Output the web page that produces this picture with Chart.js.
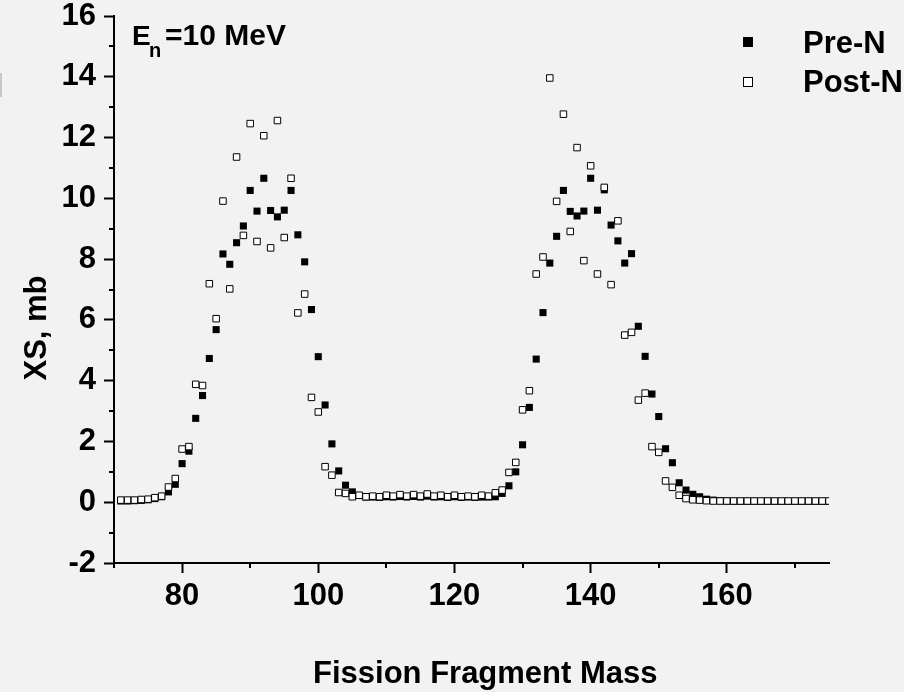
<!DOCTYPE html>
<html>
<head>
<meta charset="utf-8">
<title>Fission fragment mass yield</title>
<script src="https://cdn.jsdelivr.net/npm/chart.js@4.4.1/dist/chart.umd.min.js"></script>
<style>
  html, body { margin: 0; padding: 0; background: #f2f2f2; }
  #wrap { width: 904px; height: 692px; }
</style>
</head>
<body>
<div id="wrap"><canvas id="xsChart" width="904" height="692"></canvas></div>
<script>
// ---- data ----
const masses = [
  71, 72, 73, 74, 75, 76, 77, 78, 79, 80,
  81, 82, 83, 84, 85, 86, 87, 88, 89, 90,
  91, 92, 93, 94, 95, 96, 97, 98, 99, 100,
  101, 102, 103, 104, 105, 106, 107, 108, 109, 110,
  111, 112, 113, 114, 115, 116, 117, 118, 119, 120,
  121, 122, 123, 124, 125, 126, 127, 128, 129, 130,
  131, 132, 133, 134, 135, 136, 137, 138, 139, 140,
  141, 142, 143, 144, 145, 146, 147, 148, 149, 150,
  151, 152, 153, 154, 155, 156, 157, 158, 159, 160,
  161, 162, 163, 164, 165, 166, 167, 168, 169, 170,
  171, 172, 173, 174, 175
];

const preN = [
  0.04, 0.04, 0.05, 0.06, 0.08, 0.12, 0.18, 0.34, 0.59, 1.27,
  1.68, 2.76, 3.51, 4.73, 5.68, 8.17, 7.83, 8.54, 9.09, 10.26,
  9.58, 10.66, 9.60, 9.39, 9.61, 10.26, 8.80, 7.91, 6.34, 4.79,
  3.20, 1.92, 1.03, 0.56, 0.34, 0.22, 0.17, 0.17, 0.16, 0.18,
  0.17, 0.19, 0.17, 0.19, 0.17, 0.20, 0.17, 0.18, 0.16, 0.18,
  0.16, 0.17, 0.16, 0.17, 0.17, 0.18, 0.29, 0.54, 1.00, 1.89,
  3.12, 4.71, 6.24, 7.87, 8.75, 10.26, 9.57, 9.42, 9.58, 10.66,
  9.61, 10.28, 9.12, 8.60, 7.87, 8.18, 5.79, 4.80, 3.56, 2.82,
  1.76, 1.30, 0.64, 0.40, 0.26, 0.18, 0.10, 0.07, 0.05, 0.04,
  0.03, 0.03, 0.03, 0.03, 0.03, 0.03, 0.03, 0.03, 0.03, 0.03,
  0.03, 0.03, 0.03, 0.03, 0.03
];

const postN = [
  0.07, 0.07, 0.07, 0.09, 0.10, 0.15, 0.20, 0.50, 0.78, 1.75,
  1.83, 3.88, 3.84, 7.19, 6.04, 9.91, 7.02, 11.36, 8.78, 12.46,
  8.58, 12.06, 8.37, 12.56, 8.71, 10.66, 6.23, 6.85, 3.45, 2.97,
  1.17, 0.89, 0.32, 0.29, 0.18, 0.23, 0.18, 0.20, 0.18, 0.23,
  0.20, 0.25, 0.20, 0.25, 0.20, 0.27, 0.20, 0.23, 0.18, 0.23,
  0.18, 0.20, 0.18, 0.23, 0.20, 0.31, 0.40, 0.98, 1.31, 3.04,
  3.67, 7.51, 8.07, 13.96, 9.90, 12.77, 8.91, 11.67, 7.95, 11.07,
  7.51, 10.36, 7.16, 9.26, 5.50, 5.59, 3.36, 3.59, 1.83, 1.64,
  0.70, 0.49, 0.23, 0.12, 0.08, 0.07, 0.05, 0.04, 0.04, 0.04,
  0.04, 0.04, 0.04, 0.04, 0.04, 0.04, 0.04, 0.04, 0.04, 0.04,
  0.04, 0.04, 0.04, 0.04, 0.04
];

// tick positions (every value gets a tick mark, labels only on the major ones)
const xTicks = [70, 80, 90, 100, 110, 120, 130, 140, 150, 160, 170];
const xLabels = [80, 100, 120, 140, 160];
const yTicks = [-2, -1, 0, 1, 2, 3, 4, 5, 6, 7, 8, 9, 10, 11, 12, 13, 14, 15, 16];
const yLabels = [-2, 0, 2, 4, 6, 8, 10, 12, 14, 16];

const FONT = "'Liberation Sans', Arial, sans-serif";

const toPoints = vals => masses.map((m, i) => ({ x: m, y: vals[i] }));

// keep the plot box where the original has it (no extra room for overflowing labels)
function noScalePadding(s) {
  s.paddingTop = 0; s.paddingBottom = 0; s.paddingLeft = 0; s.paddingRight = 0;
}

// minor ticks, axis titles, note and legend drawn on top
const decoPlugin = {
  id: 'deco',
  afterDraw(chart) {
    const { ctx, chartArea } = chart;
    const xs = chart.scales.x, ys = chart.scales.y;
    ctx.save();
    ctx.strokeStyle = '#000';
    ctx.lineWidth = 2;
    // short minor ticks
    xTicks.filter(v => !xLabels.includes(v)).forEach(v => {
      const px = Math.round(xs.getPixelForValue(v));
      ctx.beginPath(); ctx.moveTo(px, chartArea.bottom); ctx.lineTo(px, chartArea.bottom + 5); ctx.stroke();
    });
    yTicks.filter(v => !yLabels.includes(v)).forEach(v => {
      const py = Math.round(ys.getPixelForValue(v));
      ctx.beginPath(); ctx.moveTo(chartArea.left - 5, py); ctx.lineTo(chartArea.left, py); ctx.stroke();
    });

    ctx.fillStyle = '#000';
    // x title
    ctx.font = "bold 31px " + FONT;
    ctx.textAlign = 'left';
    ctx.textBaseline = 'alphabetic';
    ctx.fillText('Fission Fragment Mass', 313, 683);
    // y title
    ctx.save();
    ctx.translate(46, 328);
    ctx.rotate(-Math.PI / 2);
    ctx.textAlign = 'center';
    ctx.fillText('XS, mb', 0, 0);
    ctx.restore();

    // E_n note
    ctx.textAlign = 'left';
    ctx.font = "bold 28px " + FONT;
    ctx.fillText('E', 132, 45);
    ctx.font = "bold 20px " + FONT;
    ctx.fillText('n', 149, 57);
    ctx.font = "bold 30px " + FONT;
    ctx.fillText('=10 MeV', 165, 45);

    // legend
    ctx.fillRect(743, 37, 10, 10);
    ctx.fillStyle = '#fff';
    ctx.fillRect(743, 77, 10, 10);
    ctx.lineWidth = 1;
    ctx.strokeRect(743.5, 77.5, 9, 9);
    ctx.fillStyle = '#000';
    ctx.font = "bold 31px " + FONT;
    ctx.fillText('Pre-N', 803, 53);
    ctx.fillText('Post-N', 803, 92);

    // small grey mark at the left edge of the picture
    ctx.fillStyle = '#c8c8c8';
    ctx.fillRect(0, 73, 2, 24);
    ctx.restore();
  }
};

const tickFont = { family: FONT, size: 31, weight: 'bold', lineHeight: 1 };

new Chart(document.getElementById('xsChart'), {
  type: 'scatter',
  data: {
    datasets: [
      {
        label: 'Pre-N',
        data: toPoints(preN),
        pointStyle: 'rect',
        pointRadius: 5,
        pointHoverRadius: 5,
        backgroundColor: '#000',
        borderColor: '#000',
        borderWidth: 0,
        order: 2
      },
      {
        label: 'Post-N',
        data: toPoints(postN),
        pointStyle: 'rect',
        pointRadius: 4.6,
        pointHoverRadius: 4.6,
        backgroundColor: '#fff',
        borderColor: '#000',
        borderWidth: 1,
        order: 1
      }
    ]
  },
  plugins: [decoPlugin],
  options: {
    responsive: false,
    animation: false,
    devicePixelRatio: 1,
    layout: { padding: { left: 0, top: 16, right: 75, bottom: 0 } },
    plugins: { legend: { display: false }, tooltip: { enabled: false } },
    scales: {
      x: {
        type: 'linear',
        min: 70,
        max: 175,
        afterBuildTicks: s => { s.ticks = xTicks.map(v => ({ value: v })); },
        afterFit: s => { s.height = 129; noScalePadding(s); },
        grid: {
          drawOnChartArea: false,
          drawTicks: true,
          tickLength: 10,
          tickWidth: 2,
          tickColor: c => (c.tick && xLabels.includes(c.tick.value)) ? '#000' : 'rgba(0,0,0,0)'
        },
        border: { display: true, color: '#000', width: 2 },
        ticks: {
          autoSkip: false,
          maxRotation: 0,
          padding: 8,
          color: '#000',
          font: tickFont,
          callback: v => xLabels.includes(v) ? String(v) : ''
        }
      },
      y: {
        type: 'linear',
        min: -2,
        max: 16,
        afterBuildTicks: s => { s.ticks = yTicks.map(v => ({ value: v })); },
        afterFit: s => { s.width = 114; noScalePadding(s); },
        grid: {
          drawOnChartArea: false,
          drawTicks: true,
          tickLength: 10,
          tickWidth: 2,
          tickColor: c => (c.tick && yLabels.includes(c.tick.value)) ? '#000' : 'rgba(0,0,0,0)'
        },
        border: { display: true, color: '#000', width: 2 },
        ticks: {
          autoSkip: false,
          padding: 8,
          color: '#000',
          font: tickFont,
          callback: v => yLabels.includes(v) ? String(v) : ''
        }
      }
    }
  }
});
</script>
</body>
</html>
